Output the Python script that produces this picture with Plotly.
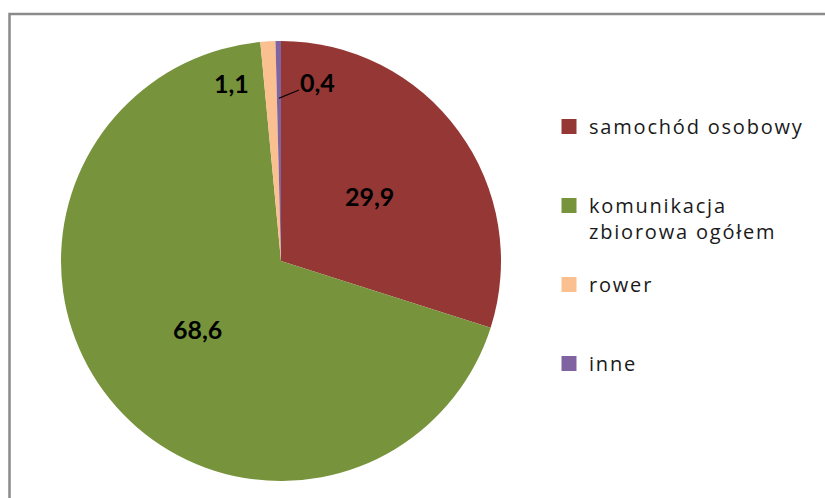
import math
import plotly.graph_objects as go

# Struktura podróży wg środka transportu (%)
categories = ["samochód osobowy", "komunikacja<br>zbiorowa ogółem", "rower", "inne"]
shares = [29.9, 68.6, 1.1, 0.4]
colors = ["#953735", "#77933C", "#FAC090", "#8064A2"]

# Canvas and pie geometry (pixels)
W, H = 825, 498
CX, CY, R = 281, 261, 220

# Label placement: (radius fraction, angular shift in degrees) per slice
label_place = [(0.50, 0.0), (0.49, 0.0), (0.84, -12.0), (0.83, 12.4)]

fig = go.Figure()

fig.add_trace(go.Pie(
    labels=categories,
    values=shares,
    sort=False,
    direction="clockwise",
    rotation=0,
    marker=dict(colors=colors, line=dict(width=0)),
    textinfo="none",
    hoverinfo="label+value",
    showlegend=False,
    domain=dict(x=[(CX - R) / W, (CX + R) / W],
                y=[(H - CY - R) / H, (H - CY + R) / H]),
))

# Legend entries (one group per category so spacing can be controlled)
SPACED = '<span style="letter-spacing:1.8px">{}</span>'
for name, col in zip(categories, colors):
    lines = name.split("<br>")
    label = "<br>".join(SPACED.format(s) for s in lines)
    if len(lines) == 1:
        label += "<br> "
    fig.add_trace(go.Scatter(
        x=[None], y=[None], mode="markers", name=label,
        legendgroup=name,
        marker=dict(symbol="square", size=15, color=col),
    ))


def to_paper(px, py):
    return px / W, 1 - py / H


LABEL_FONT = dict(family="Lato", size=25, color="black", weight="bold")

# Value labels placed from the cumulative slice angles
total = sum(shares)
start = 0.0
fmt = lambda v: f"{v:.1f}".replace(".", ",")
for i, v in enumerate(shares):
    span = 360.0 * v / total
    mid = start + span / 2
    frac, shift = label_place[i]
    ang = math.radians(mid + shift)
    tx = CX + frac * R * math.sin(ang)
    ty = CY - frac * R * math.cos(ang)
    px_, py_ = to_paper(tx, ty)
    if v < 1:
        # leader line from the thin slice to its label
        tip_ang = math.radians(mid)
        kx = CX + 0.74 * R * math.sin(tip_ang)
        ky = CY - 0.74 * R * math.cos(tip_ang)
        kpx, kpy = to_paper(kx, ky)
        fig.add_annotation(
            x=kpx, y=kpy, xref="paper", yref="paper",
            text=fmt(v), showarrow=True, arrowhead=0, arrowwidth=1.2,
            arrowcolor="black", ax=tx - kx, ay=ty - ky, standoff=0,
            font=LABEL_FONT,
        )
    else:
        fig.add_annotation(
            x=px_, y=py_, xref="paper", yref="paper",
            xanchor="center", yanchor="middle",
            text=fmt(v), showarrow=False,
            font=LABEL_FONT,
        )
    start += span

# Chart-area frame
fig.add_shape(type="rect", xref="paper", yref="paper",
              x0=9.5 / W, x1=1.05, y0=-0.05, y1=1 - 14 / H,
              line=dict(color="#8a8a8a", width=2.5), fillcolor="rgba(0,0,0,0)",
              layer="below")

fig.update_layout(
    width=W, height=H,
    margin=dict(l=0, r=0, t=0, b=0),
    paper_bgcolor="white",
    plot_bgcolor="white",
    xaxis=dict(visible=False),
    yaxis=dict(visible=False),
    legend=dict(
        x=549 / W, y=1 - 107 / H, xanchor="left", yanchor="top",
        valign="top", tracegroupgap=24,
        font=dict(family="Open Sans", size=20, color="#1a1a1a"),
        bgcolor="rgba(0,0,0,0)",
    ),
)

fig.write_html("out.html")
